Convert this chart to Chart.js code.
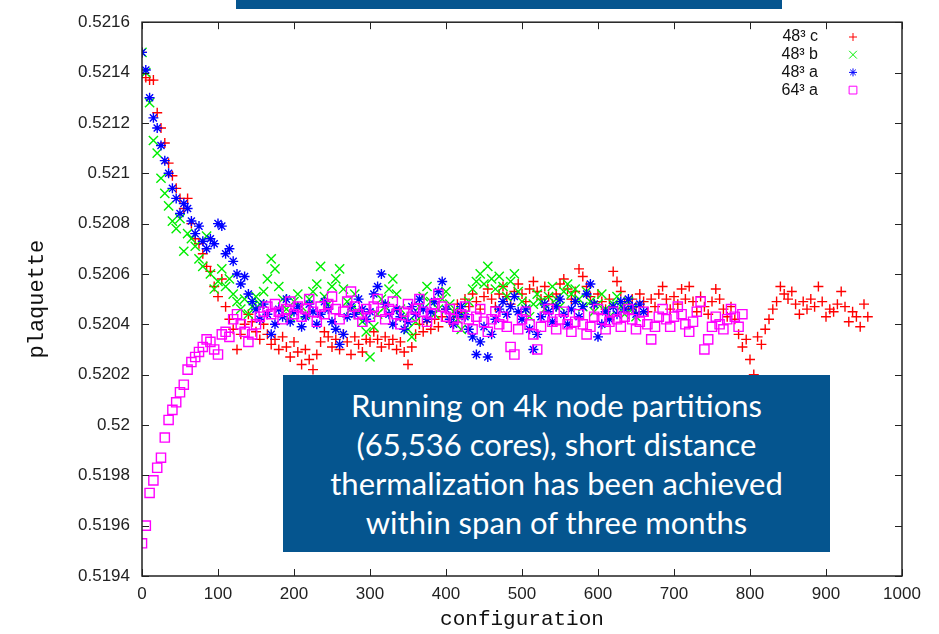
<!DOCTYPE html>
<html>
<head>
<meta charset="utf-8">
<script src="https://cdn.jsdelivr.net/npm/chart.js@4/dist/chart.umd.min.js"></script>
<style>
  body { margin: 0; background: #fff; }
  #wrap { position: relative; width: 939px; height: 634px; }
  .topbar { position: absolute; left: 236px; top: 0; width: 546px; height: 9px; background: #05558f; }
  .note {
    position: absolute; left: 283px; top: 375px; width: 547px; height: 177px;
    background: #05558f; color: #fff; font-family: Lato, "Open Sans", sans-serif;
    font-size: 31px; line-height: 39px; text-align: center;
    display: flex; align-items: center; justify-content: center;
  }
</style>
</head>
<body>
<div id="wrap">
  <canvas id="plaqChart"></canvas>
  <div class="topbar"></div>
  <div class="note"><div>Running on 4k node partitions<br>(65,536 cores), short distance<br>thermalization has been achieved<br>within span of three months</div></div>
</div>
<script>
// configurations are stored every 5 steps
const configStep = 5;
const xTicks = [0, 100, 200, 300, 400, 500, 600, 700, 800, 900, 1000];
const yTicks = [0.5194, 0.5196, 0.5198, 0.52, 0.5202, 0.5204, 0.5206, 0.5208, 0.521, 0.5212, 0.5214, 0.5216];
const seriesNames = ['48³ c', '48³ b', '48³ a', '64³ a'];

const plaq48c = [
  0.52148,0.52138,0.52137,0.52137,0.52124,0.52118,0.52112,0.52104,0.52099,0.52094,
  0.52090,0.52086,0.52090,0.52080,0.52074,0.52072,0.52068,0.52063,0.52061,0.52055,
  0.52051,0.52058,0.52047,0.52042,0.52038,0.52030,0.52036,0.52040,0.52044,0.52041,
  0.52037,0.52034,0.52040,0.52036,0.52032,0.52034,0.52030,0.52035,0.52031,0.52027,
  0.52033,0.52029,0.52024,0.52030,0.52026,0.52022,0.52028,0.52033,0.52037,0.52035,
  0.52031,0.52034,0.52030,0.52036,0.52033,0.52028,0.52035,0.52032,0.52029,0.52034,
  0.52033,0.52037,0.52034,0.52031,0.52035,0.52032,0.52034,0.52030,0.52033,0.52029,
  0.52024,0.52031,0.52036,0.52040,0.52037,0.52041,0.52038,0.52042,0.52039,0.52043,
  0.52046,0.52041,0.52044,0.52048,0.52045,0.52050,0.52047,0.52052,0.52049,0.52046,
  0.52051,0.52054,0.52050,0.52047,0.52052,0.52055,0.52051,0.52048,0.52053,0.52056,
  0.52052,0.52049,0.52054,0.52057,0.52053,0.52050,0.52055,0.52051,0.52048,0.52052,
  0.52056,0.52058,0.52054,0.52050,0.52053,0.52062,0.52059,0.52055,0.52051,0.52048,
  0.52052,0.52049,0.52046,0.52050,0.52061,0.52057,0.52053,0.52049,0.52046,0.52050,
  0.52047,0.52052,0.52049,0.52045,0.52050,0.52047,0.52052,0.52055,0.52050,0.52046,
  0.52051,0.52048,0.52054,0.52050,0.52055,0.52049,0.52045,0.52051,0.52047,0.52044,
  0.52049,0.52054,0.52050,0.52046,0.52043,0.52047,0.52042,0.52036,0.52031,0.52034,
  0.52026,0.52020,0.52035,0.52032,0.52038,0.52042,0.52046,0.52049,0.52055,0.52052,
  0.52050,0.52053,0.52048,0.52044,0.52049,0.52046,0.52050,0.52047,0.52055,0.52049,
  0.52043,0.52046,0.52045,0.52048,0.52053,0.52047,0.52041,0.52045,0.52043,0.52039,
  0.52048,0.52043
];
const plaq48b = [
  0.52148,0.52140,0.52128,0.52113,0.52108,0.52098,0.52092,0.52087,0.52081,0.52078,
  0.52082,0.52069,0.52076,0.52074,0.52071,0.52066,0.52063,0.52075,0.52060,0.52054,
  0.52057,0.52062,0.52055,0.52058,0.52052,0.52049,0.52046,0.52050,0.52044,0.52047,
  0.52051,0.52048,0.52053,0.52058,0.52066,0.52062,0.52055,0.52050,0.52046,0.52043,
  0.52049,0.52052,0.52047,0.52044,0.52050,0.52053,0.52056,0.52063,0.52051,0.52048,
  0.52055,0.52058,0.52062,0.52054,0.52049,0.52046,0.52052,0.52045,0.52041,0.52037,
  0.52027,0.52039,0.52044,0.52050,0.52047,0.52054,0.52058,0.52052,0.52046,0.52043,
  0.52038,0.52035,0.52041,0.52047,0.52051,0.52055,0.52049,0.52044,0.52046,0.52050,
  0.52053,0.52048,0.52045,0.52042,0.52038,0.52044,0.52049,0.52054,0.52057,0.52060,
  0.52056,0.52063,0.52058,0.52054,0.52059,0.52055,0.52051,0.52057,0.52060,0.52053,
  0.52049,0.52046,0.52043,0.52048,0.52052,0.52049,0.52046,0.52051,0.52055,0.52050,
  0.52047,0.52053,0.52056,0.52052,0.52054,0.52050,0.52047,0.52053,0.52049,0.52045,
  0.52048,0.52052,0.52046,0.52043,0.52048,0.52051,0.52047,0.52044,0.52049,0.52046,
  0.52043
];
const plaq48a = [
  0.52148,0.52141,0.52130,0.52122,0.52118,0.52111,0.52105,0.52100,0.52094,0.52090,
  0.52084,0.52088,0.52086,0.52081,0.52076,0.52079,0.52073,0.52070,0.52074,0.52072,
  0.52080,0.52079,0.52068,0.52070,0.52065,0.52060,0.52056,0.52059,0.52052,0.52049,
  0.52046,0.52042,0.52048,0.52044,0.52036,0.52040,0.52046,0.52043,0.52050,0.52041,
  0.52045,0.52047,0.52039,0.52043,0.52048,0.52045,0.52040,0.52044,0.52049,0.52046,
  0.52041,0.52038,0.52032,0.52036,0.52043,0.52047,0.52044,0.52050,0.52046,0.52042,
  0.52045,0.52052,0.52055,0.52060,0.52048,0.52044,0.52040,0.52046,0.52043,0.52038,
  0.52041,0.52047,0.52044,0.52050,0.52046,0.52042,0.52045,0.52049,0.52053,0.52057,
  0.52046,0.52042,0.52040,0.52044,0.52047,0.52043,0.52038,0.52035,0.52028,0.52033,
  0.52039,0.52027,0.52036,0.52042,0.52046,0.52049,0.52044,0.52047,0.52051,0.52045,
  0.52042,0.52046,0.52038,0.52030,0.52036,0.52043,0.52048,0.52045,0.52041,0.52047,
  0.52050,0.52044,0.52040,0.52046,0.52049,0.52043,0.52047,0.52052,0.52056,0.52048,
  0.52035,0.52040,0.52045,0.52042,0.52047,0.52044,0.52049,0.52046,0.52050,0.52047,
  0.52044,0.52048,0.52045
];
const plaq64a = [
  0.51953,0.51960,0.51973,0.51978,0.51983,0.51987,0.51995,0.52002,0.52006,0.52009,
  0.52013,0.52016,0.52022,0.52025,0.52027,0.52029,0.52031,0.52034,0.52033,0.52030,
  0.52028,0.52036,0.52037,0.52035,0.52042,0.52044,0.52040,0.52037,0.52033,0.52036,
  0.52040,0.52043,0.52045,0.52047,0.52044,0.52048,0.52045,0.52042,0.52046,0.52049,
  0.52044,0.52047,0.52043,0.52046,0.52050,0.52045,0.52041,0.52047,0.52044,0.52048,
  0.52051,0.52046,0.52042,0.52045,0.52049,0.52053,0.52047,0.52044,0.52041,0.52046,
  0.52043,0.52047,0.52050,0.52045,0.52042,0.52046,0.52049,0.52044,0.52040,0.52045,
  0.52048,0.52043,0.52046,0.52050,0.52045,0.52041,0.52044,0.52048,0.52052,0.52047,
  0.52043,0.52046,0.52042,0.52039,0.52044,0.52047,0.52042,0.52038,0.52043,0.52046,
  0.52041,0.52037,0.52042,0.52045,0.52040,0.52043,0.52039,0.52031,0.52028,0.52038,
  0.52042,0.52045,0.52040,0.52036,0.52030,0.52039,0.52043,0.52046,0.52041,0.52038,
  0.52042,0.52045,0.52040,0.52037,0.52041,0.52044,0.52040,0.52036,0.52039,0.52043,
  0.52046,0.52042,0.52038,0.52041,0.52045,0.52042,0.52039,0.52043,0.52046,0.52042,
  0.52038,0.52041,0.52045,0.52040,0.52034,0.52039,0.52043,0.52046,0.52042,0.52039,
  0.52043,0.52047,0.52044,0.52040,0.52037,0.52041,0.52045,0.52049,0.52030,0.52034,
  0.52039,0.52043,0.52040,0.52038,0.52042,0.52046,0.52043,0.52039,0.52044
];

function toPoints(vals) {
  return vals.map((v, i) => ({ x: i * configStep, y: v }));
}

// gnuplot style: ticks pointing inward on all four sides, plus the frame
const framePlugin = {
  id: 'frame',
  afterDatasetsDraw(chart) {
    const { ctx, chartArea: a, scales: { x, y } } = chart;
    ctx.save();
    ctx.strokeStyle = '#222';
    ctx.lineWidth = 1;
    ctx.beginPath();
    x.ticks.forEach(t => {
      const px = Math.round(x.getPixelForValue(t.value)) + 0.5;
      ctx.moveTo(px, a.bottom); ctx.lineTo(px, a.bottom - 7);
      ctx.moveTo(px, a.top); ctx.lineTo(px, a.top + 7);
    });
    y.ticks.forEach(t => {
      const py = Math.round(y.getPixelForValue(t.value)) + 0.5;
      ctx.moveTo(a.left, py); ctx.lineTo(a.left + 7, py);
      ctx.moveTo(a.right, py); ctx.lineTo(a.right - 7, py);
    });
    ctx.stroke();
    ctx.lineWidth = 1.5;
    ctx.strokeRect(a.left, a.top, a.right - a.left, a.bottom - a.top);
    ctx.restore();
  }
};

// legend in the top right corner, text right aligned, symbol after it
const keyPlugin = {
  id: 'key',
  afterDatasetsDraw(chart) {
    const ctx = chart.ctx;
    ctx.save();
    chart.data.datasets.forEach((ds, i) => {
      const yy = 37 + i * 17.7;
      ctx.font = '16px "Liberation Sans", Arial, sans-serif';
      ctx.textAlign = 'right';
      ctx.textBaseline = 'middle';
      ctx.fillStyle = '#111';
      ctx.fillText(ds.label, 818, yy);
      ctx.strokeStyle = ds.borderColor;
      ctx.fillStyle = 'rgba(0,0,0,0)';
      ctx.lineWidth = 1;
      Chart.helpers.drawPoint(ctx, { pointStyle: ds.pointStyle, radius: ds.keyRadius, rotation: 0, borderWidth: 1 }, 853, yy);
    });
    ctx.restore();
  }
};

const ctx = document.getElementById('plaqChart').getContext('2d');
const plaqChart = new Chart(ctx, {
  type: 'scatter',
  data: {
    datasets: [
      { label: seriesNames[0], data: toPoints(plaq48c), pointStyle: 'cross', pointRadius: 5, keyRadius: 4, borderColor: '#ff0000', backgroundColor: 'rgba(0,0,0,0)', borderWidth: 1.4, order: 4 },
      { label: seriesNames[1], data: toPoints(plaq48b), pointStyle: 'crossRot', pointRadius: 6.5, keyRadius: 5.5, borderColor: '#00ee00', backgroundColor: 'rgba(0,0,0,0)', borderWidth: 1.4, order: 3 },
      { label: seriesNames[2], data: toPoints(plaq48a), pointStyle: 'star', pointRadius: 5, keyRadius: 4, borderColor: '#0000ff', backgroundColor: 'rgba(0,0,0,0)', borderWidth: 1.4, order: 2 },
      { label: seriesNames[3], data: toPoints(plaq64a), pointStyle: 'rect', pointRadius: 6.5, keyRadius: 5.5, borderColor: '#ff00ff', backgroundColor: 'rgba(0,0,0,0)', borderWidth: 1.4, order: 1 }
    ]
  },
  options: {
    responsive: true,
    maintainAspectRatio: false,
    animation: false,
    events: [],
    layout: { padding: { left: 20, top: 18, right: 37, bottom: 0 } },
    plugins: { legend: { display: false }, tooltip: { enabled: false } },
    scales: {
      x: {
        type: 'linear',
        min: 0,
        max: 1000,
        afterBuildTicks: s => { s.ticks = xTicks.map(v => ({ value: v })); },
        afterFit: s => { s.height = 58; },
        grid: { display: false, drawTicks: false },
        border: { display: false },
        ticks: { font: { family: 'Liberation Sans', size: 17 }, color: '#222', padding: 8, maxRotation: 0, callback: v => String(v) },
        title: { display: true, text: 'configuration', font: { family: 'Liberation Mono', size: 21 }, color: '#111', padding: { top: 2, bottom: 2 } }
      },
      y: {
        type: 'linear',
        min: 0.5194,
        max: 0.5216,
        afterBuildTicks: s => { s.ticks = yTicks.map(v => ({ value: v })); },
        afterFit: s => { s.width = 122; },
        grid: { display: false, drawTicks: false },
        border: { display: false },
        ticks: {
          font: { family: 'Liberation Sans', size: 17 }, color: '#222', padding: 12,
          callback: v => String(Number(v.toFixed(4)))
        },
        title: { display: true, text: 'plaquette', font: { family: 'Liberation Mono', size: 22 }, color: '#111', padding: { top: 4, bottom: 4 } }
      }
    }
  },
  plugins: [framePlugin, keyPlugin]
});
</script>
</body>
</html>
